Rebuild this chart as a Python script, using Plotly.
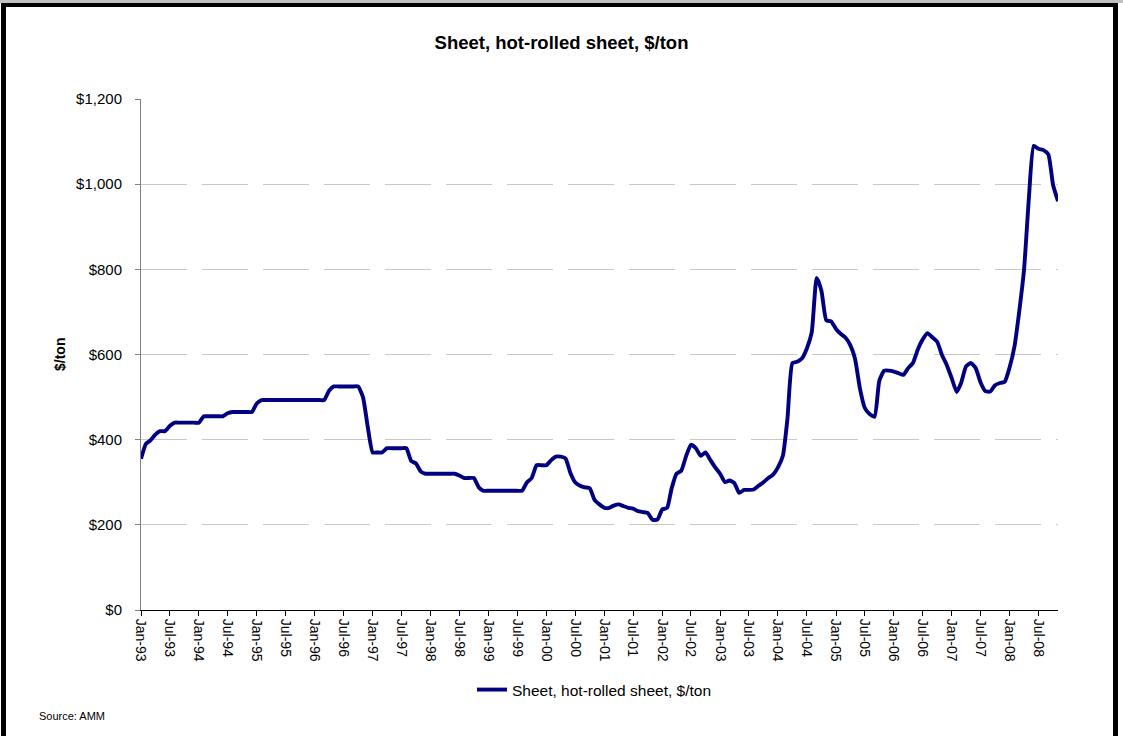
import plotly.graph_objects as go
import pandas as pd

title_text = "Sheet, hot-rolled sheet, $/ton"
series_name = "Sheet, hot-rolled sheet, $/ton"
y_axis_title = "$/ton"
source_text = "Source: AMM"
start_month = "1993-01-01"

price_1993 = [355, 390, 398, 412, 420, 420, 432, 440, 440, 440, 440, 440]
price_1994 = [440, 455, 455, 455, 455, 455, 462, 465, 465, 465, 465, 465]
price_1995 = [485, 493, 493, 493, 493, 493, 493, 493, 493, 493, 493, 493]
price_1996 = [493, 493, 493, 515, 525, 525, 525, 525, 525, 525, 500, 430]
price_1997 = [370, 370, 370, 380, 380, 380, 380, 380, 350, 344, 325, 320]
price_1998 = [320, 320, 320, 320, 320, 320, 316, 310, 310, 310, 288, 280]
price_1999 = [280, 280, 280, 280, 280, 280, 280, 280, 300, 310, 340, 340]
price_2000 = [340, 352, 360, 360, 356, 322, 300, 292, 288, 286, 258, 248]
price_2001 = [240, 240, 245, 248, 244, 240, 238, 232, 230, 228, 212, 212]
price_2002 = [236, 240, 285, 320, 327, 362, 388, 380, 362, 370, 352, 335]
price_2003 = [320, 300, 304, 298, 275, 282, 282, 283, 292, 300, 310, 318]
price_2004 = [335, 362, 450, 580, 583, 591, 614, 652, 780, 750, 680, 678]
price_2005 = [660, 648, 640, 622, 590, 520, 475, 460, 454, 538, 562, 562]
price_2006 = [560, 556, 552, 568, 580, 612, 635, 650, 640, 630, 598, 575]
price_2007 = [544, 512, 533, 572, 580, 568, 535, 514, 513, 528, 533, 536]
price_2008 = [570, 620, 700, 800, 965, 1090, 1083, 1080, 1070, 998, 960]

prices = (price_1993 + price_1994 + price_1995 + price_1996 + price_1997 +
          price_1998 + price_1999 + price_2000 + price_2001 + price_2002 +
          price_2003 + price_2004 + price_2005 + price_2006 + price_2007 +
          price_2008)
months = pd.date_range(start_month, periods=len(prices), freq="MS")

W, H = 1123, 736
L, R, T, B = 141, 1058, 99, 610  # plot area in px
FONT = "Liberation Sans, Arial, sans-serif"


def px(x):
    return (x - L) / (R - L)


def py(y):
    return (B - y) / (B - T)


fig = go.Figure()
fig.add_trace(go.Scatter(
    x=months, y=prices, mode="lines", name=series_name,
    line=dict(color="#000080", width=3.9, shape="spline", smoothing=0.5),
    showlegend=True,
))

shapes = [
    # gray band at top
    dict(type="rect", xref="paper", yref="paper", x0=px(0), x1=px(W), y0=py(0), y1=py(3),
         fillcolor="#c0c0c0", line=dict(width=0), layer="above"),
    # black frame lines
    dict(type="rect", xref="paper", yref="paper", x0=px(1), x1=px(1118), y0=py(3), y1=py(7),
         fillcolor="black", line=dict(width=0), layer="above"),
    dict(type="rect", xref="paper", yref="paper", x0=px(1), x1=px(6), y0=py(3), y1=py(H),
         fillcolor="black", line=dict(width=0), layer="above"),
    dict(type="rect", xref="paper", yref="paper", x0=px(1113), x1=px(1118), y0=py(3), y1=py(H),
         fillcolor="black", line=dict(width=0), layer="above"),
]

annotations = [
    dict(text="<b>" + y_axis_title + "</b>", xref="paper", yref="paper", x=px(60), y=py(355),
         textangle=-90, showarrow=False, font=dict(family=FONT, size=14, color="black"),
         xanchor="center", yanchor="middle"),
    dict(text=source_text, xref="paper", yref="paper", x=px(37), y=py(716),
         showarrow=False, font=dict(family=FONT, size=11, color="black"),
         xanchor="left", yanchor="middle"),
]

fig.update_layout(
    width=W, height=H,
    margin=dict(l=L, r=W - R, t=T, b=H - B, pad=0),
    paper_bgcolor="white", plot_bgcolor="white",
    font=dict(family=FONT, color="black", size=14),
    title=dict(text="<b>" + title_text + "</b>", x=0.5, xanchor="center",
               y=1 - 43 / H, yanchor="middle", xref="container", yref="container",
               font=dict(family=FONT, size=18.5, color="black")),
    showlegend=True,
    legend=dict(orientation="h", x=px(472), y=py(690), xanchor="left", yanchor="middle",
                font=dict(family=FONT, size=15.5, color="black"), bgcolor="rgba(0,0,0,0)",
                itemwidth=30),
    shapes=shapes,
    annotations=annotations,
    hovermode=False,
)

fig.update_yaxes(
    range=[0, 1200], dtick=200, tick0=0,
    tickprefix="$", tickformat=",",
    showgrid=True, gridcolor="#c8c8c8", gridwidth=1, griddash="46px,15px",
    showline=True, linecolor="#808080", linewidth=1,
    ticks="outside", ticklen=5, tickcolor="#808080", tickwidth=1,
    ticklabelstandoff=10,
    zeroline=False,
    tickfont=dict(family=FONT, size=15, color="black"),
)

fig.update_xaxes(
    type="date", range=[months[0], months[-1]],
    tick0=start_month, dtick="M6", tickformat="%b-%y", tickangle=90,
    showgrid=False, showline=True, linecolor="black", linewidth=1,
    ticks="outside", ticklen=5, tickcolor="black", tickwidth=1,
    zeroline=False,
    tickfont=dict(family=FONT, size=14, color="black"),
)

fig.write_html("out.html",
               config={"displayModeBar": False, "staticPlot": True},
               post_script="document.body.style.margin='0px';document.body.style.padding='0px';")
